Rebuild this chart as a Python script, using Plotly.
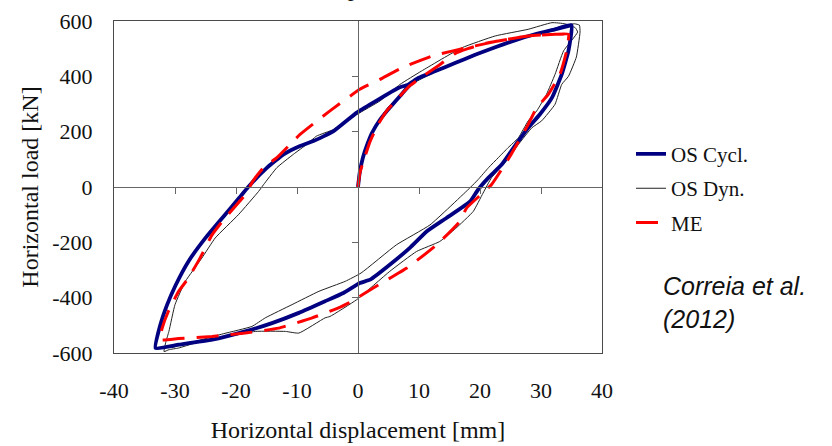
import plotly.graph_objects as go

# ---------------- data ----------------
# OS Cycl. (thick navy)
cycl_x = [0, 0.3, 0.8, 1.5, 2.3, 3.6, 4.8, 6.9, 8.2, 9.9, 12.6, 15.9, 19.2, 22.5, 25.7, 29.0, 32.3, 35.0,
          34.5, 33.4, 31.8, 29.8, 27.9, 25.7, 23.6, 21.4, 19.7, 18.4, 14.5, 11.3, 8.5, 5.2, 2.0, 0.3, -2.4,
          -5.4, -9.7, -14.1, -18.5, -23.9, -29.4, -33.2,
          -32.4, -31.3, -29.9, -27.8, -25.0, -21.8, -19.5, -18.0, -14.9, -12.2, -9.5, -7.3, -4.0, -0.2,
          2.8, 6.6, 8.2, 9.9, 12.6, 15.9, 19.2, 22.5, 25.7, 29.0, 32.3, 35.0]
cycl_y = [0, 55, 106, 153, 196, 243, 276, 329, 362, 394, 418, 448, 478, 505, 530, 552, 570, 585,
          492, 407, 323, 262, 214, 148, 82, 34, -9, -52, -112, -160, -220, -281, -335, -347, -383,
          -413, -455, -492, -522, -552, -570, -582,
          -498, -426, -355, -269, -184, -100, -40, 0, 70, 118, 148, 166, 202, 269,
          309, 358, 370, 394, 418, 448, 478, 505, 530, 552, 570, 585]

# OS Dyn. (thin black)
dyn_x = [0, 0.5, 1.2, 2.2, 3.5, 5.0, 7.0, 9.5, 13.0, 17.0, 21.0, 25.0, 29.0, 32.0, 34.0, 35.5, 36.3, 36.4,
         35.8, 34.5, 33.4, 32.3, 30.1, 28.5, 26.3, 24.4, 21.9, 20.5, 18.9, 16.0, 13.4, 9.6, 5.2, -0.2, -4.6,
         -5.4, -9.7, -11.9, -16.8, -21.2, -26.7, -29.4, -31.0, -31.8,
         -31.5, -31.0, -30.0, -28.3, -25.6, -23.4, -19.6, -16.3, -15.5, -13.3, -10.6, -8.4, -6.8, -4.0, -0.2,
         3.6, 6.9, 10.4, 17.0, 22.5, 27.9, 31.8, 33.9, 35.6, 36.0,
         33.7, 32.3, 30.9, 29.3, 27.9, 26.3, 24.6, 23.0, 21.4, 19.7, 18.4, 11.8, 6.3, 0.5, -2.1, -6.4,
         -10.8, -15.2, -17.4, -22.0, -27.0, -30.5]
dyn_y = [0, 80, 140, 195, 245, 290, 335, 380, 420, 455, 490, 522, 552, 572, 584, 590, 585, 560,
         470, 400, 371, 299, 239, 214, 154, 96, 34, -22, -88, -150, -197, -233, -305, -407, -468,
         -473, -528, -522, -522, -540, -564, -582, -588, -595,
         -560, -522, -425, -341, -257, -184, -100, -16, 8, 70, 118, 154, 184, 208, 262,
         311, 371, 419, 503, 546, 570, 594, 590, 576, 560,
         492, 407, 335, 275, 239, 178, 142, 106, 70, 27, -2, -137, -209, -311, -341, -377,
         -425, -473, -504, -530, -560, -580]

# ME (red dashed)
me_x = [0, 0.3, 0.9, 2.0, 3.3, 4.7, 6.6, 8.5, 11.0, 13.4, 15.9, 18.0, 21.0, 23.0, 27.9, 32.3, 34.5,
        34.2, 33.1, 31.2, 29.3, 27.9, 25.1, 21.9, 17.8, 16.7, 12.9, 8.0, 2.5, -1.0, -3.2, -7.5, -13.0,
        -18.5, -23.9, -29.4, -32.5,
        -32.1, -31.1, -29.4, -27.8, -25.9, -23.9, -21.8, -18.5, -17.2, -15.5, -13.3, -9.5, -4.6, 0.3,
        3.6, 7.2, 12.1, 15.4, 19.2, 23.0, 27.9, 32.3, 34.5]
me_y = [0, 50, 94, 166, 226, 275, 322, 366, 406, 442, 482, 500, 520, 528, 546, 552, 552,
        492, 407, 335, 287, 226, 118, 9, -76, -124, -209, -293, -365, -413, -437, -473, -510,
        -528, -540, -548, -552,
        -510, -450, -377, -329, -257, -172, -112, -28, 22, 70, 106, 190, 275, 353,
        389, 431, 473, 491, 510, 528, 546, 552, 552]

x_tick_vals = [-40, -30, -20, -10, 0, 10, 20, 30, 40]
x_tick_labels = ['-40', '-30', '-20', '-10', '0', '10', '20', '30', '40']
y_tick_vals = [-600, -400, -200, 0, 200, 400, 600]
y_tick_labels = ['-600', '-400', '-200', '0', '200', '400', '600']
x_zero_ticks = [-30, -20, -10, 10, 20, 30]
y_zero_ticks = [-400, -200, 200, 400]

x_title = 'Horizontal displacement [mm]'
y_title = 'Horizontal load [kN]'
source_text = '<i>Correia et al.<br>(2012)</i>'

# ---------------- figure ----------------
SERIF = 'Liberation Serif'
fig = go.Figure()

fig.add_trace(go.Scatter(x=dyn_x, y=dyn_y, mode='lines', name='OS Dyn.',
                         line=dict(color='#222222', width=1, shape='spline', smoothing=0.4),
                         legendgroup='b', legendrank=2))
fig.add_trace(go.Scatter(x=cycl_x, y=cycl_y, mode='lines', name='OS Cycl.',
                         line=dict(color='#000080', width=3.8, shape='spline', smoothing=0.4),
                         legendgroup='a', legendrank=1))
fig.add_trace(go.Scatter(x=me_x, y=me_y, mode='lines', name='ME',
                         line=dict(color='#ff0000', width=3, dash='22px,12px', shape='spline', smoothing=0.4),
                         legendgroup='c', legendrank=3))
# empty traces so the zero-crossing axes are drawn
fig.add_trace(go.Scatter(x=[], y=[], xaxis='x2', yaxis='y', showlegend=False, hoverinfo='skip'))
fig.add_trace(go.Scatter(x=[], y=[], xaxis='x', yaxis='y2', showlegend=False, hoverinfo='skip'))

fig.update_layout(
    width=832, height=446,
    margin=dict(l=114, r=230, t=21, b=93, autoexpand=False),
    plot_bgcolor='white', paper_bgcolor='white',
    font=dict(family=SERIF, size=22, color='#111111'),
    xaxis=dict(range=[-40, 40], tickmode='array', tickvals=x_tick_vals, ticktext=x_tick_labels,
               showline=True, mirror=True, linecolor='#4a4a4a', linewidth=1, automargin=False,
               ticks='', showgrid=False, zeroline=False, ticklabelstandoff=18,
               tickfont=dict(family=SERIF, size=22),
               title=dict(text=x_title, font=dict(family=SERIF, size=24), standoff=18)),
    yaxis=dict(range=[-600, 600], tickmode='array', tickvals=y_tick_vals, ticktext=y_tick_labels,
               showline=True, mirror=True, linecolor='#4a4a4a', linewidth=1, automargin=False,
               ticks='', showgrid=False, zeroline=False, ticklabelstandoff=16,
               tickfont=dict(family=SERIF, size=22),
               title=dict(text=y_title, font=dict(family=SERIF, size=24), standoff=6)),
    xaxis2=dict(overlaying='x', anchor='free', position=0.5, range=[-40, 40], automargin=False,
                tickmode='array', tickvals=x_zero_ticks, ticks='outside', ticklen=6,
                tickcolor='#666666', showline=True, linecolor='#666666', linewidth=1,
                showticklabels=False, showgrid=False, zeroline=False),
    yaxis2=dict(overlaying='y', anchor='free', position=0.5, side='left', range=[-600, 600],
                automargin=False,
                tickmode='array', tickvals=y_zero_ticks, ticks='outside', ticklen=6,
                tickcolor='#666666', showline=True, linecolor='#666666', linewidth=1,
                showticklabels=False, showgrid=False, zeroline=False),
    legend=dict(xref='container', yref='container', x=0.7584, y=0.70, xanchor='left', yanchor='top',
                tracegroupgap=4,
                font=dict(family=SERIF, size=21, color='#111111'), bgcolor='rgba(0,0,0,0)'),
    showlegend=True,
)

fig.add_annotation(text=source_text, xref='paper', yref='paper', x=1.121, y=0.153,
                   xanchor='left', yanchor='middle', align='left', showarrow=False,
                   font=dict(family='Liberation Sans', size=25, color='#111111'))
# partially visible (cut-off) title at the very top of the image
fig.add_annotation(text=x_title, xref='paper', yref='paper', x=0.5, y=1.054,
                   xanchor='center', yanchor='bottom', showarrow=False,
                   font=dict(family=SERIF, size=24, color='#111111'))

fig.write_html('out.html', config={'displayModeBar': False},
               post_script="document.body.style.margin='0';")
